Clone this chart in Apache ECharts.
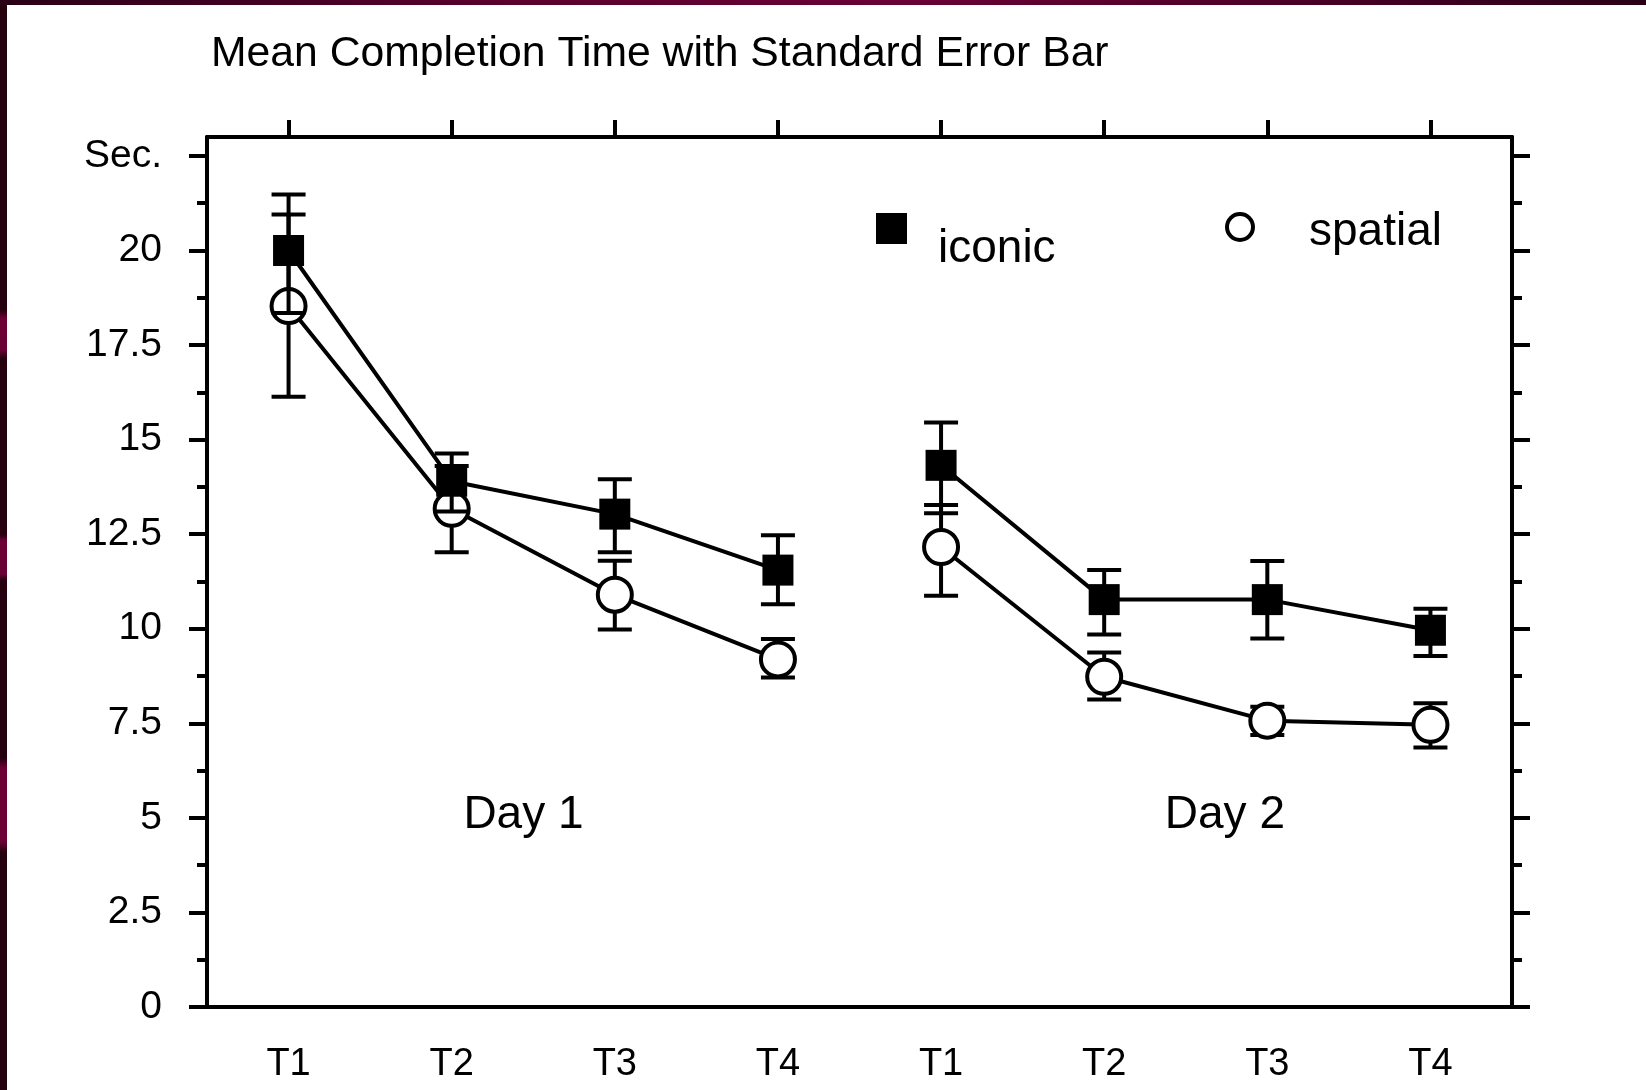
<!DOCTYPE html>
<html>
<head>
<meta charset="utf-8">
<title>Mean Completion Time</title>
<script src="https://cdn.jsdelivr.net/npm/echarts@6/dist/echarts.min.js"></script>
<style>
  html, body { margin: 0; padding: 0; }
  body {
    width: 1646px; height: 1090px; position: relative; overflow: hidden;
    background: linear-gradient(180deg, #27000f 0px, #27000f 310px, #6a0035 318px, #6a0035 350px, #27000f 358px,
      #27000f 535px, #6a0035 540px, #6a0035 574px, #27000f 580px, #27000f 758px, #6a0035 768px, #6a0035 842px, #27000f 852px);
  }
  #topstrip { position: absolute; left: 0; top: 0; width: 1646px; height: 5px;
    background: linear-gradient(90deg, #2a0016, #5a002e 30%, #6a0036 55%, #4a0026 80%, #2a0016); }
  #panel { position: absolute; left: 7px; top: 5px; right: 0; bottom: 0; background: #fff; }
  #content { position: absolute; left: 0; top: 0; width: 1646px; height: 1090px; }
</style>
</head>
<body>
<div id="topstrip"></div>
<div id="panel"></div>
<div id="content"></div>
<script>
// 数据
var categories = ['T1', 'T2', 'T3', 'T4', 'T1', 'T2', 'T3', 'T4'];
var dayOf = [1, 1, 1, 1, 2, 2, 2, 2];

var iconicMean = [20.0, 13.9, 13.03, 11.55, 14.32, 10.77, 10.77, 9.96];
var iconicLow  = [18.35, 13.1, 12.02, 10.65, 13.05, 9.85, 9.74, 9.28];
var iconicHigh = [21.48, 14.63, 13.95, 12.47, 15.45, 11.55, 11.79, 10.53];

var spatialMean = [18.53, 13.17, 10.9, 9.19, 12.16, 8.73, 7.57, 7.46];
var spatialLow  = [16.13, 12.02, 9.98, 8.71, 10.87, 8.13, 7.19, 6.86];
var spatialHigh = [20.95, 14.3, 11.8, 9.73, 13.27, 9.37, 7.94, 8.03];

var majorTicks = [0, 2.5, 5, 7.5, 10, 12.5, 15, 17.5, 20, 22.5];
var minorTicks = [1.25, 3.75, 6.25, 8.75, 11.25, 13.75, 16.25, 18.75, 21.25];

var dayNames = ['Day 1', 'Day 2'];
var dayLabelX = [1.44, 5.74];
var dayLabelY = [5.07, 5.07];

var FONT = '"Liberation Sans", Arial, Helvetica, sans-serif';
var LW = 4;

function pickDay(arr, d) {
    return arr.map(function (v, i) { return dayOf[i] === d ? v : '-'; });
}

function errData(lo, hi) {
    return categories.map(function (c, i) { return [i, lo[i], hi[i]]; });
}

function renderErr(params, api) {
    var x = api.value(0);
    var lo = api.coord([x, api.value(1)]);
    var hi = api.coord([x, api.value(2)]);
    var hw = 17;
    var st = { stroke: '#000', lineWidth: LW };
    return {
        type: 'group',
        children: [
            { type: 'line', shape: { x1: lo[0], y1: lo[1], x2: hi[0], y2: hi[1] }, style: st },
            { type: 'line', shape: { x1: lo[0] - hw, y1: lo[1], x2: lo[0] + hw, y2: lo[1] }, style: st },
            { type: 'line', shape: { x1: hi[0] - hw, y1: hi[1], x2: hi[0] + hw, y2: hi[1] }, style: st }
        ]
    };
}

function yAxisCfg(pos, values, len, showLine, showLabel) {
    return {
        type: 'value', position: pos, min: 0, max: 23,
        axisLine: { show: showLine, onZero: false, lineStyle: { color: '#000', width: LW } },
        axisTick: { show: true, customValues: values, length: len, lineStyle: { color: '#000', width: LW } },
        axisLabel: {
            show: showLabel, customValues: values, margin: 45,
            fontFamily: FONT, fontSize: 39, color: '#000',
            formatter: function (v) { return v === 22.5 ? 'Sec.' : String(v); }
        },
        splitLine: { show: false }
    };
}

function lineSeries(name, data, isIconic) {
    return {
        name: name, type: 'line', data: data,
        xAxisIndex: 0, yAxisIndex: 0,
        z: isIconic ? 5 : 3,
        symbol: isIconic ? 'rect' : 'circle',
        symbolSize: isIconic ? 31 : 34,
        showAllSymbol: true,
        lineStyle: { color: '#000', width: LW },
        itemStyle: isIconic ? { color: '#000' } : { color: '#fff', borderColor: '#000', borderWidth: LW },
        emphasis: { disabled: true },
        silent: true
    };
}

function legendCfg(name, icon, size, left, top, itemStyle, pad) {
    return {
        left: left, top: top, padding: 0, selectedMode: false,
        itemWidth: size, itemHeight: size,
        data: [{ name: name, icon: icon, itemStyle: itemStyle }],
        formatter: '{t|{name}}',
        textStyle: {
            rich: { t: { fontFamily: FONT, fontSize: 46, color: '#000', padding: pad } }
        }
    };
}

var option = {
    animation: false,
    backgroundColor: 'transparent',
    textStyle: { fontFamily: FONT },
    title: {
        text: 'Mean Completion Time with Standard Error Bar',
        left: 211, top: 33, padding: 0,
        textStyle: { fontFamily: FONT, fontSize: 42.7, fontWeight: 'normal', color: '#000' }
    },
    legend: [
        legendCfg('iconic', 'rect', 31, 876, 213, { color: '#000', borderWidth: 0 }, [41, 0, 0, 26]),
        legendCfg('spatial', 'circle', 26, 1225, 209, { color: '#fff', borderColor: '#000', borderWidth: LW }, [10, 0, 0, 51])
    ],
    grid: { left: 207, right: 134, top: 137, bottom: 83, containLabel: false },
    xAxis: [{
        type: 'category', position: 'bottom', data: categories, boundaryGap: true,
        axisLine: { onZero: false, lineStyle: { color: '#000', width: LW } },
        axisTick: { alignWithLabel: true, interval: 0, length: 17, lineStyle: { color: '#000', width: LW } },
        axisLabel: { fontFamily: FONT, fontSize: 38, color: '#000', margin: 39, interval: 0 }
    }, {
        type: 'category', position: 'top', data: categories, boundaryGap: true,
        axisLine: { onZero: false, lineStyle: { color: '#000', width: LW } },
        axisTick: { show: true, alignWithLabel: true, interval: 0, length: 17, lineStyle: { color: '#000', width: LW } },
        axisLabel: { show: true, interval: 0, color: 'rgba(0,0,0,0)', formatter: function () { return ''; } }
    }, {
        type: 'value', min: -0.5, max: 7.5, show: false,
        axisLine: { onZero: false }
    }],
    yAxis: [
        yAxisCfg('left', majorTicks, 18, true, true),
        yAxisCfg('left', minorTicks, 10, false, false),
        yAxisCfg('right', majorTicks, 18, true, false),
        yAxisCfg('right', minorTicks, 10, false, false)
    ],
    series: [
        { type: 'custom', name: 'spatialErr', renderItem: renderErr, data: errData(spatialLow, spatialHigh),
          xAxisIndex: 0, yAxisIndex: 0, encode: { x: 0, y: [1, 2] }, z: 2, silent: true },
        lineSeries('spatial', pickDay(spatialMean, 1), false),
        lineSeries('spatial', pickDay(spatialMean, 2), false),
        { type: 'custom', name: 'iconicErr', renderItem: renderErr, data: errData(iconicLow, iconicHigh),
          xAxisIndex: 0, yAxisIndex: 0, encode: { x: 0, y: [1, 2] }, z: 4, silent: true },
        lineSeries('iconic', pickDay(iconicMean, 1), true),
        lineSeries('iconic', pickDay(iconicMean, 2), true),
        {
            type: 'scatter', name: 'days', xAxisIndex: 2, yAxisIndex: 0, z: 6, silent: true,
            symbolSize: 0, itemStyle: { opacity: 1 },
            data: dayNames.map(function (n, i) { return { name: n, value: [dayLabelX[i], dayLabelY[i]] }; }),
            label: { show: true, position: 'inside', formatter: '{b}', fontFamily: FONT, fontSize: 46,
                     color: '#000', opacity: 1, textBorderWidth: 0 }
        }
    ]
};

var myChart = echarts.init(document.getElementById('content'), null, { renderer: 'canvas' });
myChart.setOption(option);
</script>
</body>
</html>
